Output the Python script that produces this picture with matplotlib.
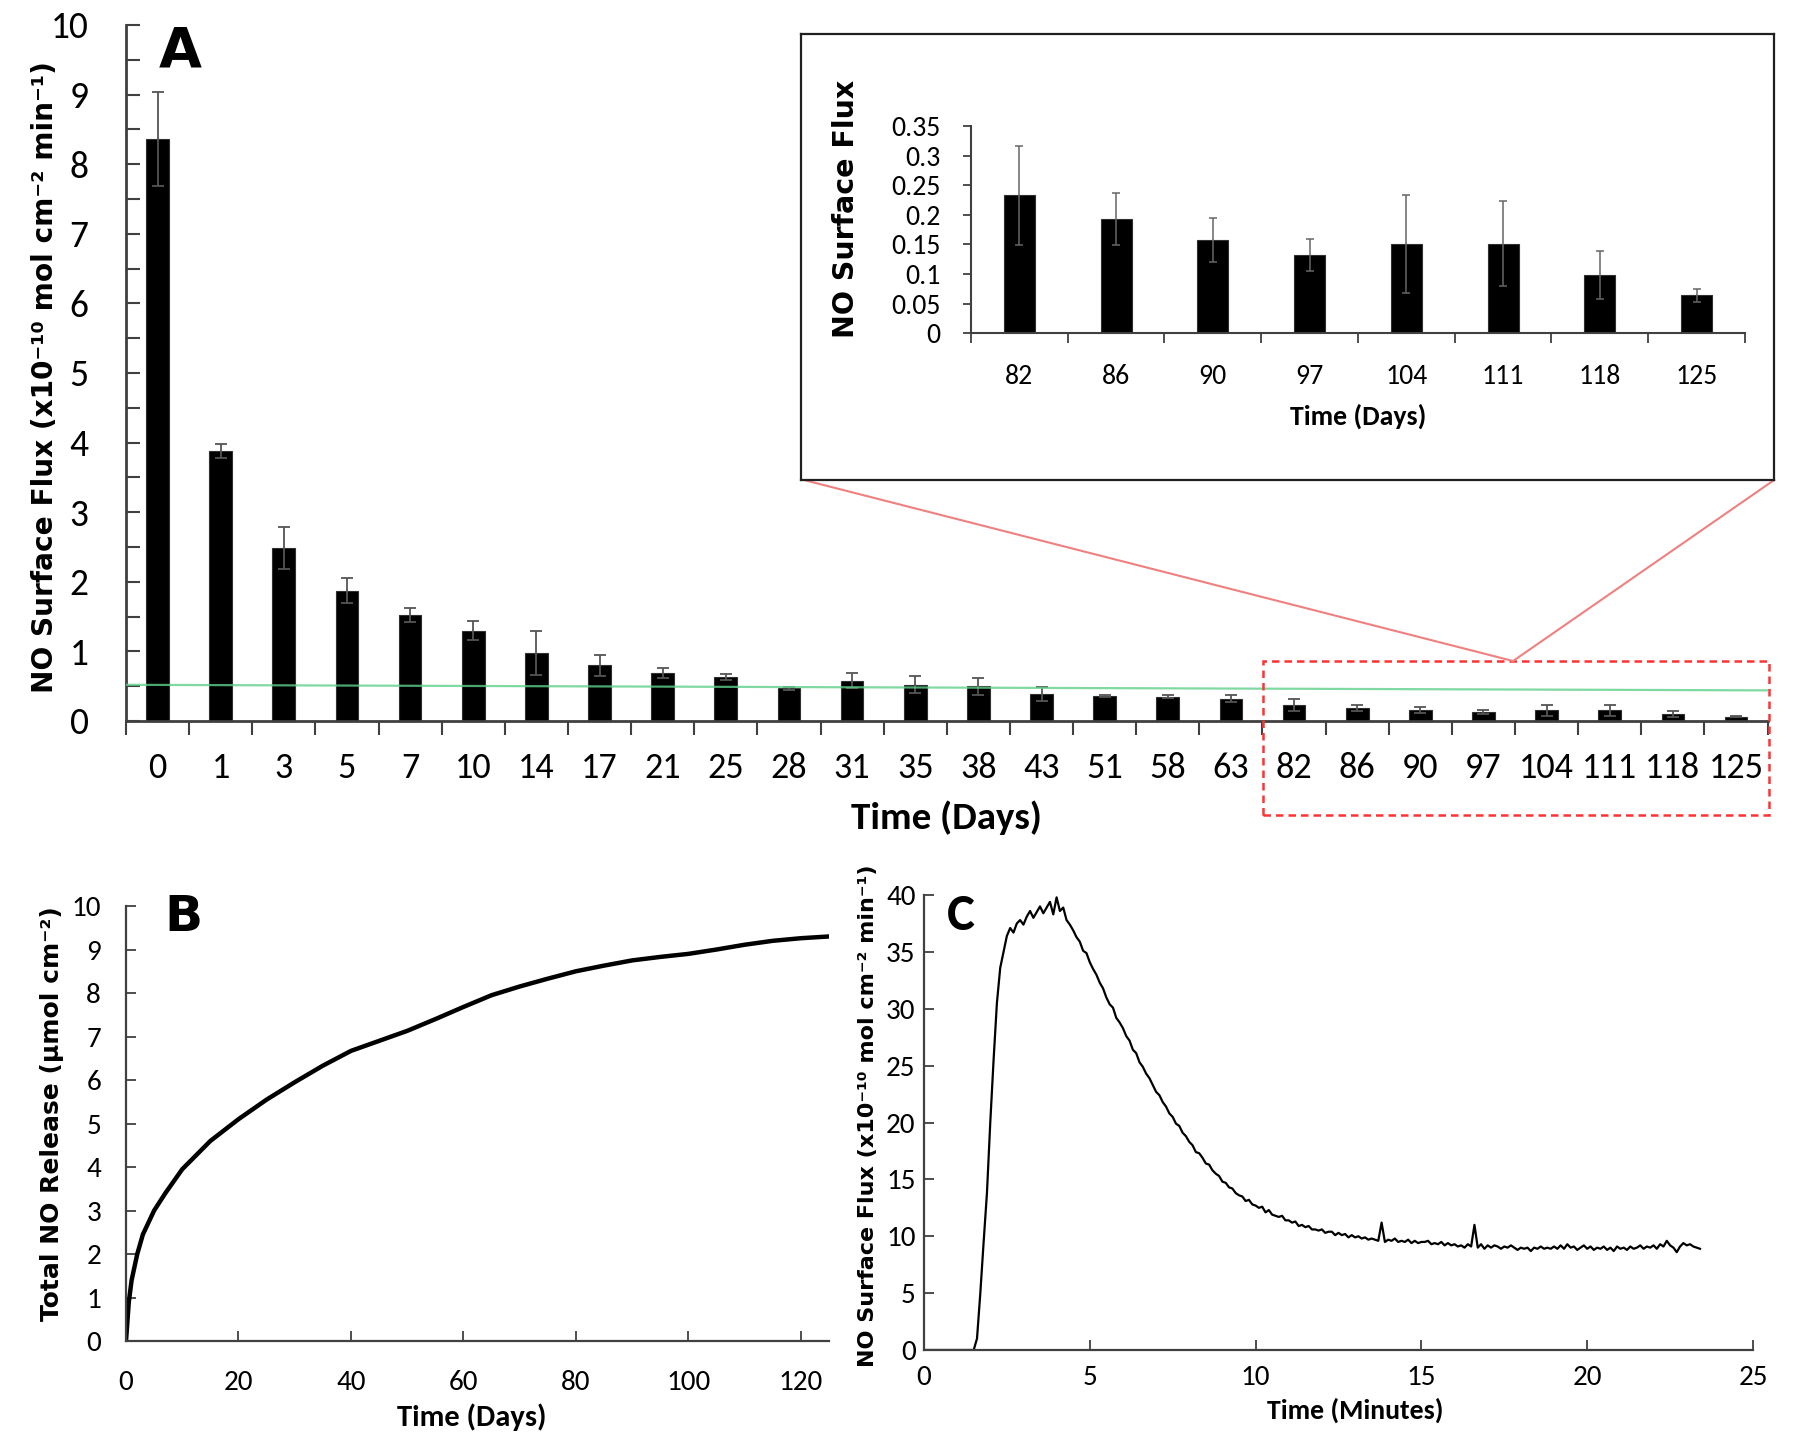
import numpy as np
import matplotlib
matplotlib.use("Agg")
import matplotlib.pyplot as plt
from matplotlib import font_manager
from matplotlib.patches import Rectangle
from matplotlib.lines import Line2D

# ---- panel A: NO surface flux per day (x1e-10 mol cm-2 min-1)
days = ["0", "1", "3", "5", "7", "10", "14", "17", "21", "25", "28", "31", "35", "38",
        "43", "51", "58", "63", "82", "86", "90", "97", "104", "111", "118", "125"]
flux = [8.36, 3.88, 2.48, 1.87, 1.52, 1.30, 0.98, 0.80, 0.69, 0.63, 0.47, 0.58, 0.52, 0.50,
        0.39, 0.36, 0.35, 0.32, 0.233, 0.193, 0.158, 0.132, 0.151, 0.151, 0.098, 0.064]
flux_err = [0.67, 0.10, 0.30, 0.18, 0.10, 0.14, 0.32, 0.15, 0.07, 0.04, 0.02, 0.11, 0.12, 0.12,
            0.10, 0.02, 0.02, 0.05, 0.084, 0.044, 0.037, 0.027, 0.083, 0.072, 0.040, 0.011]
trend_ends = [0.52, 0.44]
n_inset = 8   # last 8 days shown in inset

# ---- panel B: cumulative NO release (umol cm-2)
cum_days = [0, 0.5, 1, 2, 3, 5, 7, 10, 15, 20, 25, 30, 35, 40, 45, 50, 55, 60, 65, 70,
            75, 80, 85, 90, 95, 100, 105, 110, 115, 120, 125]
cum_release = [0, 0.9, 1.4, 2.0, 2.45, 3.0, 3.4, 3.95, 4.6, 5.1, 5.55, 5.95, 6.33, 6.67,
               6.9, 7.13, 7.4, 7.68, 7.95, 8.15, 8.33, 8.5, 8.63, 8.75, 8.83, 8.9, 9.0,
               9.11, 9.2, 9.26, 9.3]

# ---- panel C: NO flux trace, one reading every 0.1 min
trace_step = 0.1
trace = [0, 0, 0, 0, 0, 0, 0, 0, 0, 0, 0, 0, 0, 0, 0, 0,
         1.0, 5.0, 9.5, 13.8, 20.0, 25.5, 30.5, 33.6, 35.0, 36.4, 37.1, 36.7, 37.5, 37.8,
         37.4, 38.1, 38.6, 38.0, 38.5, 39.0, 38.4, 38.9, 39.4, 38.3, 39.8, 38.6, 38.9, 37.8,
         37.4, 36.9, 36.3, 35.9, 35.1, 34.9, 34.1, 33.5, 33.0, 32.3, 31.8, 31.0, 30.4, 30.1,
         29.2, 28.8, 28.3, 27.6, 27.2, 26.4, 26.1, 25.3, 24.9, 24.3, 23.9, 23.3, 22.7, 22.4,
         21.8, 21.4, 20.8, 20.5, 19.9, 19.7, 19.1, 18.8, 18.3, 18.0, 17.4, 17.3, 16.9, 16.4,
         16.3, 15.8, 15.5, 15.3, 14.8, 14.7, 14.3, 14.2, 13.8, 13.6, 13.5, 13.1, 13.2, 12.8,
         12.7, 12.5, 12.6, 12.1, 12.3, 11.9, 11.8, 11.7, 11.8, 11.4, 11.4, 11.2, 11.3, 10.9,
         11.0, 10.8, 10.9, 10.6, 10.6, 10.5, 10.6, 10.3, 10.4, 10.4, 10.1, 10.3, 10.1, 10.2,
         9.9, 10.1, 9.9, 10.0, 9.8, 9.9, 9.7, 9.8, 9.7, 9.6, 11.2, 9.5, 9.7, 9.6,
         9.8, 9.5, 9.6, 9.5, 9.7, 9.4, 9.6, 9.4, 9.5, 9.5, 9.6, 9.3, 9.4, 9.3,
         9.5, 9.2, 9.4, 9.2, 9.3, 9.1, 9.2, 9.0, 9.3, 9.1, 11.0, 9.0, 9.3, 8.9,
         9.2, 9.0, 9.2, 9.1, 8.9, 9.1, 9.0, 9.2, 9.0, 8.8, 9.0, 8.9, 9.0, 8.7,
         9.0, 8.9, 9.1, 8.9, 9.0, 8.9, 9.1, 8.9, 9.2, 8.9, 9.3, 9.0, 9.1, 8.8,
         9.0, 9.2, 8.9, 9.1, 8.8, 9.0, 8.9, 9.1, 8.8, 9.0, 8.7, 9.1, 8.9, 9.0,
         8.8, 9.1, 8.9, 9.0, 9.2, 8.9, 9.1, 9.0, 9.2, 8.9, 9.3, 9.1, 9.6, 9.2,
         9.0, 8.6, 9.1, 9.4, 9.2, 9.3, 9.1, 9.0, 8.9]

# pick a narrow face for the Calibri-like tick labels, if one is installed
installed = {f.name for f in font_manager.fontManager.ttflist}
narrow = "Liberation Sans"
for cand in ["Carlito", "Liberation Sans Narrow", "Roboto Condensed", "Open Sans Condensed",
             "DejaVu Sans Condensed", "Noto Sans Condensed"]:
    if cand in installed:
        narrow = cand
        break
condensed = [f for f in font_manager.fontManager.ttflist
             if f.name == "DejaVu Sans" and "ondensed" in str(f.stretch)]
stretch = "normal"
if narrow == "Liberation Sans" and condensed:
    narrow, stretch = "DejaVu Sans", "condensed"

spine_col = "#404040"
fig = plt.figure(figsize=(18, 14.42), dpi=100)


def style_axes(ax, width=1.6):
    for s in ("top", "right"):
        ax.spines[s].set_visible(False)
    for s in ("left", "bottom"):
        ax.spines[s].set_color(spine_col)
        ax.spines[s].set_linewidth(width)


def narrow_labels(ax):
    for lab in ax.get_xticklabels() + ax.get_yticklabels():
        lab.set_fontfamily(narrow)
        lab.set_fontstretch(stretch)


# ---------------- panel A
axA = fig.add_axes([0.070, 0.500, 0.912, 0.4827])
x = np.arange(len(days))
axA.bar(x, flux, width=0.36, color="black", edgecolor="#303030", linewidth=0.8, zorder=2)
axA.errorbar(x, flux, yerr=flux_err, fmt="none", ecolor="#555555", elinewidth=1.3,
             capsize=4, capthick=1.3, zorder=3)
axA.plot([-0.5, len(days) - 0.5], trend_ends, color="#5fd08a", lw=1.6, alpha=0.8, zorder=4)
axA.set_xlim(-0.5, len(days) - 0.5)
axA.set_ylim(0, 10)
axA.set_yticks(np.arange(0, 10.01, 1))
axA.set_yticks(np.arange(0.5, 10, 1), minor=True)
axA.set_xticks(x)
axA.set_xticklabels(days)
axA.set_xticks(np.arange(-0.5, len(days)), minor=True)
axA.tick_params(axis="x", which="major", length=0, pad=22, labelsize=26)
axA.tick_params(axis="x", which="minor", direction="out", length=10, width=1.5, color=spine_col)
axA.tick_params(axis="y", which="both", direction="in", length=10, width=1.5, color=spine_col,
                labelsize=27, pad=27)
narrow_labels(axA)
style_axes(axA, 2)
fig.text(0.100, 0.964, "A", fontsize=40, fontweight="bold", ha="center", va="center")
fig.text(0.025, 0.7386, "NO Surface Flux (x10⁻¹⁰ mol cm⁻² min⁻¹)", rotation=90,
         fontsize=20.2, fontweight="bold", ha="center", va="center")
fig.text(0.526, 0.433, "Time (Days)", fontsize=28, fontweight="bold", family=narrow,
         stretch=stretch, ha="center", va="center")

# zoom marker: dashed box around the last days and lines to the inset
fig.add_artist(Rectangle((0.7017, 0.4348), 0.2811, 0.1068, transform=fig.transFigure,
                         fill=False, edgecolor="#ff3333", lw=1.8, linestyle=(0, (3, 2))))
fig.add_artist(Line2D([0.4467, 0.8406], [0.6671, 0.5416], transform=fig.transFigure,
                      color="#f08080", lw=1.5))
fig.add_artist(Line2D([0.9856, 0.8406], [0.6671, 0.5416], transform=fig.transFigure,
                      color="#f08080", lw=1.5))

# ---------------- inset
frame = fig.add_axes([0.445, 0.667, 0.5406, 0.3093])
frame.set_xticks([])
frame.set_yticks([])
for s in frame.spines.values():
    s.set_linewidth(1.6)
    s.set_color("#202020")
frame.set_zorder(5)
frame.text(0.470, 0.855, "NO Surface Flux", rotation=90, fontsize=20.5, fontweight="bold",
           ha="center", va="center", transform=fig.transFigure)
frame.text(0.7544, 0.711, "Time (Days)", fontsize=20, fontweight="bold", family=narrow,
           stretch=stretch, ha="center", va="center", transform=fig.transFigure)

axI = fig.add_axes([0.5394, 0.769, 0.430, 0.1436])
axI.set_zorder(6)
xi = np.arange(n_inset)
axI.bar(xi, flux[-n_inset:], width=0.32, color="black", edgecolor="#303030", linewidth=0.8)
axI.errorbar(xi, flux[-n_inset:], yerr=flux_err[-n_inset:], fmt="none", ecolor="#666666",
             elinewidth=1.1, capsize=3, capthick=1.1)
axI.set_xlim(-0.5, n_inset - 0.5)
axI.set_ylim(0, 0.35)
axI.set_yticks(np.arange(0, 0.351, 0.05))
axI.set_yticklabels(["0", "0.05", "0.1", "0.15", "0.2", "0.25", "0.3", "0.35"])
axI.set_xticks(xi)
axI.set_xticklabels(days[-n_inset:])
axI.set_xticks(np.arange(-0.5, n_inset), minor=True)
axI.tick_params(axis="x", which="major", length=0, pad=22, labelsize=20)
axI.tick_params(axis="x", which="minor", direction="out", length=7, width=1.3, color=spine_col)
axI.tick_params(axis="y", direction="out", length=6, width=1.3, color=spine_col, labelsize=20,
                pad=16)
narrow_labels(axI)
style_axes(axI, 1.5)

# ---------------- panel B
axB = fig.add_axes([0.070, 0.070, 0.3906, 0.3017])
axB.plot(cum_days, cum_release, color="black", lw=3.2, solid_capstyle="round")
axB.set_xlim(0, 125)
axB.set_ylim(0, 10)
axB.set_xticks(np.arange(0, 121, 20))
axB.set_yticks(np.arange(0, 10.1, 1))
axB.tick_params(axis="both", direction="in", length=7, width=1.3, color=spine_col, labelsize=21)
axB.tick_params(axis="x", pad=21)
axB.tick_params(axis="y", pad=18)
narrow_labels(axB)
style_axes(axB, 1.6)
fig.text(0.102, 0.364, "B", fontsize=36, fontweight="bold", ha="center", va="center")
fig.text(0.029, 0.228, "Total NO Release (µmol cm⁻²)", rotation=90, fontsize=18,
         fontweight="bold", ha="center", va="center")
fig.text(0.262, 0.017, "Time (Days)", fontsize=22, fontweight="bold", family=narrow,
         stretch=stretch, ha="center", va="center")

# ---------------- panel C
axC = fig.add_axes([0.5133, 0.0638, 0.4606, 0.3155])
t = np.arange(len(trace)) * trace_step
axC.plot(t, trace, color="black", lw=1.6)
axC.set_xlim(0, 25)
axC.set_ylim(0, 40)
axC.set_xticks(np.arange(0, 26, 5))
axC.set_yticks(np.arange(0, 41, 5))
axC.tick_params(axis="both", direction="in", length=7, width=1.3, color=spine_col, labelsize=21)
axC.tick_params(axis="x", pad=11)
axC.tick_params(axis="y", pad=6)
narrow_labels(axC)
style_axes(axC, 1.6)
fig.text(0.534, 0.365, "C", fontsize=38, fontweight="bold", family=narrow, stretch=stretch,
         ha="center", va="center")
fig.text(0.482, 0.226, "NO Surface Flux (x10⁻¹⁰ mol cm⁻² min⁻¹)", rotation=90, fontsize=16,
         fontweight="bold", ha="center", va="center")
fig.text(0.753, 0.022, "Time (Minutes)", fontsize=20, fontweight="bold", family=narrow,
         stretch=stretch, ha="center", va="center")

fig.savefig("out.png", dpi=100)
